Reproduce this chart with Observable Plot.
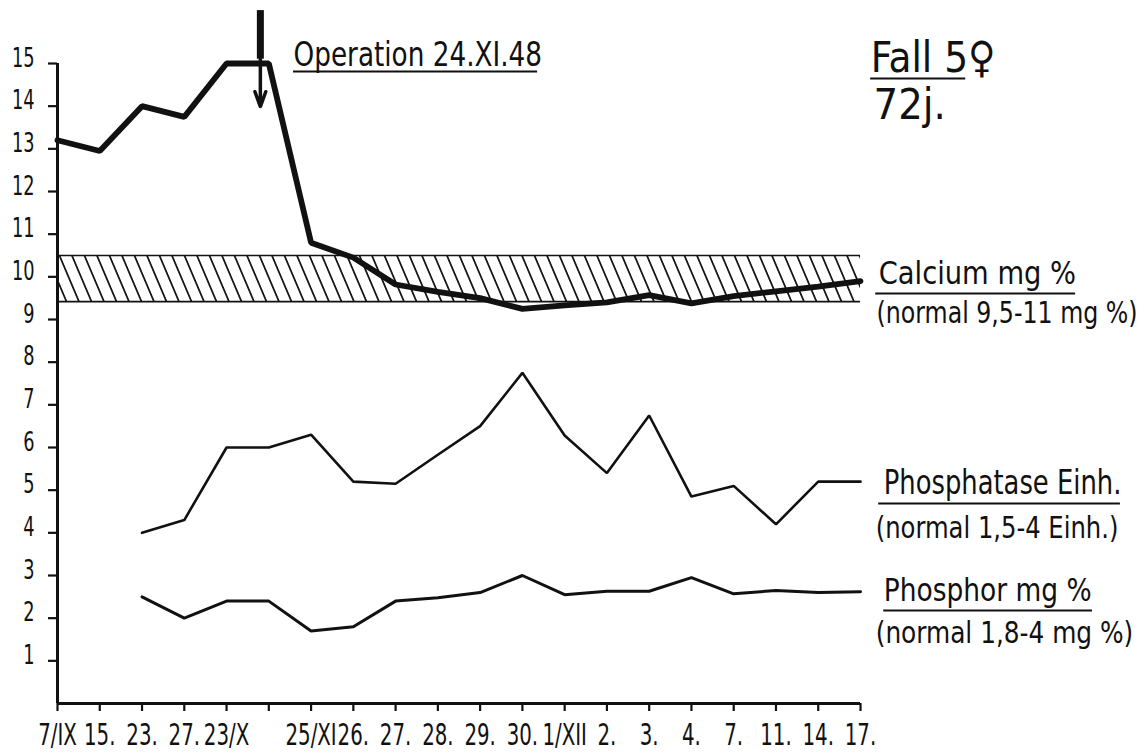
<!DOCTYPE html>
<html>
<head>
<meta charset="utf-8">
<script src="https://cdn.jsdelivr.net/npm/d3@7"></script>
<script src="https://cdn.jsdelivr.net/npm/@observablehq/plot@0.6"></script>
<style>
  html, body { margin: 0; padding: 0; background: #fff; }
  #chart svg { display: block; }
</style>
</head>
<body>
<div id="chart"></div>
<script>
// Dates (x categories); index 5 is the operation day (24.XI), unlabeled
const xLabels = ["7/IX","15.","23.","27.","23/X","","25/XI","26.","27.","28.","29.","30.","1/XII","2.","3.","4.","7.","11.","14.","17."];
// Calcium mg %
const calcium = [13.2, 12.95, 14.0, 13.75, 15.0, 15.0, 10.8, 10.45, 9.82, 9.65, 9.5, 9.25, 9.33, 9.4, 9.57, 9.38, 9.55, 9.66, 9.77, 9.9];
// Phosphatase Einh.
const phosphatase = [null, null, 4.0, 4.3, 6.0, 6.0, 6.3, 5.2, 5.15, 5.83, 6.5, 7.75, 6.28, 5.4, 6.75, 4.85, 5.1, 4.2, 5.2, 5.2];
// Phosphor mg %
const phosphor = [null, null, 2.5, 2.0, 2.4, 2.4, 1.7, 1.8, 2.4, 2.48, 2.6, 3.0, 2.55, 2.63, 2.63, 2.95, 2.57, 2.65, 2.6, 2.62];
// y tick values
const yTicks = [1,2,3,4,5,6,7,8,9,10,11,12,13,14,15];
// hatched calcium band as drawn (mg %)
const calciumBand = [{lo: 9.42, hi: 10.5}];
// operation arrow (x index, values)
const operation = [{x: 4.8, top: 16.24, mid: 15.1, tip: 13.99}];
// annotation texts
const noteTexts = ["Operation 24.XI.48", "Fall 5\u2640", "72j.", "Calcium mg %", "(normal 9,5-11 mg %)",
  "Phosphatase Einh.", "(normal 1,5-4 Einh.)", "Phosphor mg %", "(normal 1,8-4 mg %)"];

// ---- layout (positions/sizes for annotations, in data units) ----
const noteLayout = [
  {x: 5.585, y: 14.95, size: 34, sx: 0.86},
  {x: 19.24, y: 14.79, size: 43, sx: 0.97},
  {x: 19.31, y: 13.71, size: 43, sx: 1.0},
  {x: 19.43, y: 9.84, size: 32, sx: 0.95},
  {x: 19.38, y: 8.91, size: 31, sx: 0.85},
  {x: 19.55, y: 4.92, size: 33, sx: 0.87},
  {x: 19.36, y: 3.89, size: 30, sx: 0.90},
  {x: 19.55, y: 2.41, size: 32, sx: 0.92},
  {x: 19.36, y: 1.41, size: 31, sx: 0.89}
];
const underlineLayout = [
  {x1: 5.585, x2: 11.36, y: 14.81},
  {x1: 19.24, x2: 21.49, y: 14.65},
  {x1: 19.36, x2: 24.09, y: 9.61},
  {x1: 19.43, x2: 25.15, y: 4.69},
  {x1: 19.55, x2: 24.49, y: 2.18}
];
const notes = noteTexts.map((text, i) => ({text, ...noteLayout[i]}));

const rows = xLabels.map((label, i) => ({i, label, calcium: calcium[i], phosphatase: phosphatase[i], phosphor: phosphor[i]}));
const idx = xLabels.map((_, i) => i);

const font = "'DejaVu Sans Condensed', 'DejaVu Sans', sans-serif";

function hatchDefs() {
  const ns = "http://www.w3.org/2000/svg";
  const defs = document.createElementNS(ns, "defs");
  const p = document.createElementNS(ns, "pattern");
  p.setAttribute("id", "hatch");
  p.setAttribute("patternUnits", "userSpaceOnUse");
  p.setAttribute("width", "12.5");
  p.setAttribute("height", "20");
  p.setAttribute("patternTransform", "skewX(23)");
  const bg = document.createElementNS(ns, "rect");
  bg.setAttribute("width", "12.5"); bg.setAttribute("height", "20"); bg.setAttribute("fill", "#fff");
  const l = document.createElementNS(ns, "line");
  l.setAttribute("x1", "1"); l.setAttribute("x2", "1"); l.setAttribute("y1", "-1"); l.setAttribute("y2", "21");
  l.setAttribute("stroke", "#111"); l.setAttribute("stroke-width", "1.9");
  p.appendChild(bg); p.appendChild(l); defs.appendChild(p);
  return defs;
}

const chart = Plot.plot({
  width: 1138,
  height: 755,
  marginLeft: 57,
  marginRight: 278,
  marginTop: 63,
  marginBottom: 52,
  x: {domain: [0, 19], axis: null},
  y: {domain: [0, 15], axis: null},
  style: {fontFamily: font, color: "#111", background: "#fff"},
  marks: [
    hatchDefs,
    Plot.rect(calciumBand, {x1: 0, x2: 19, y1: "lo", y2: "hi", fill: "url(#hatch)"}),
    Plot.ruleY(calciumBand, {y: "lo", x1: 0, x2: 19, stroke: "#111", strokeWidth: 1.6}),
    Plot.ruleY(calciumBand, {y: "hi", x1: 0, x2: 19, stroke: "#111", strokeWidth: 1.6}),
    Plot.axisY({ticks: yTicks, tickSize: 9, tickFormat: () => "", strokeWidth: 2.2, label: null}),
    Plot.text(yTicks, {x: 0, y: d => d, text: d => String(d), textAnchor: "end", dx: -23, dy: -5, fontSize: 26, fill: "#111"}),
    Plot.axisX({ticks: idx, tickSize: 8, tickPadding: 11, tickFormat: i => xLabels[i], fontSize: 31, strokeWidth: 2.2, label: null}),
    Plot.ruleX([0], {y1: 0, y2: 15, stroke: "#111", strokeWidth: 3}),
    Plot.ruleY([0], {x1: 0, x2: 19, stroke: "#111", strokeWidth: 3}),
    Plot.line(rows, {x: "i", y: "phosphatase", stroke: "#111", strokeWidth: 2.6, strokeLinejoin: "miter"}),
    Plot.line(rows, {x: "i", y: "phosphor", stroke: "#111", strokeWidth: 3, strokeLinejoin: "miter"}),
    Plot.line(rows, {x: "i", y: "calcium", stroke: "#111", strokeWidth: 5.8, strokeLinejoin: "miter"}),
    Plot.ruleX(operation, {x: "x", y1: "top", y2: "mid", stroke: "#111", strokeWidth: 7}),
    Plot.arrow(operation, {x1: "x", x2: "x", y1: "mid", y2: "tip", stroke: "#111", strokeWidth: 3.5, headLength: 26, headAngle: 40}),
    Plot.text(notes, {x: "x", y: "y", text: "text", fontSize: d => d.size, textAnchor: "start", lineAnchor: "bottom", fill: "#111"}),
    Plot.ruleY(underlineLayout, {y: "y", x1: "x1", x2: "x2", stroke: "#111", strokeWidth: 2})
  ]
});

// horizontally compress lettering to mimic the narrow stencil font
const xSet = new Set(xLabels.filter(d => d));
const ySet = new Set(yTicks.map(String));
chart.querySelectorAll("text").forEach(t => {
  const s = t.textContent;
  let sx = null;
  const ni = noteTexts.indexOf(s);
  if (ni >= 0) sx = noteLayout[ni].sx;
  else if (xSet.has(s)) sx = 0.71;
  else if (ySet.has(s)) sx = 0.76;
  if (sx == null) return;
  let tr = t.getAttribute("transform");
  if (!tr) {
    const x = t.getAttribute("x") || 0, y = t.getAttribute("y") || 0;
    t.removeAttribute("x"); t.removeAttribute("y");
    tr = `translate(${x},${y})`;
  }
  t.setAttribute("transform", `${tr} scale(${sx},1)`);
});

document.getElementById("chart").appendChild(chart);
</script>
</body>
</html>
